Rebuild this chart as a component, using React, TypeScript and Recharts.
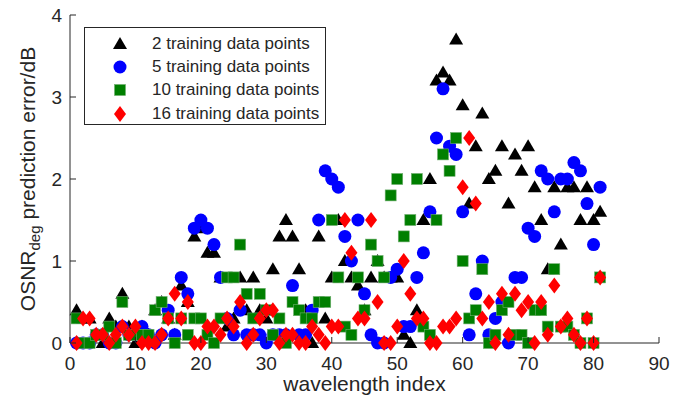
import { ScatterChart, Scatter, XAxis, YAxis } from "recharts";

// wavelength index 1..81
const wavelengthIndex = Array.from({ length: 81 }, (_, i) => i + 1);

const xTicks = [0, 10, 20, 30, 40, 50, 60, 70, 80, 90];
const yTicks = [0, 1, 2, 3, 4];

// prediction error (dB), one value per wavelength index
const err2 = [
  0.4, 0.3, 0.3, 0.1, 0, 0.3, 0.2, 0.6, 0.2, 0,
  0.2, 0.1, 0.4, 0.5, 0.3, 0.1, 0.7, 0.5, 1.3, 1.4,
  1.1, 1.1, 0.8, 0.2, 0.3, 0.8, 0.4, 0.8, 0.4, 0.3,
  0.9, 1.3, 1.5, 1.3, 0.9, 0.4, 0, 1.3, 0.3, 0.8,
  1.5, 1.0, 0.8, 0.7, 0.4, 0.8, 1.0, 0.8, 0.8, 0.8,
  0.1, 0, 0.4, 1.5, 2.0, 3.2, 3.3, 3.2, 3.7, 2.9,
  1.7, 2.4, 2.8, 2.0, 2.1, 2.4, 1.7, 2.3, 2.1, 2.4,
  1.9, 1.5, 0.9, 1.9, 1.2, 1.9, 1.9, 1.5, 1.9, 1.5, 1.6,
];
const err5 = [
  0, 0, 0, 0.1, 0.1, 0, 0, 0.2, 0.1, 0.1,
  0.2, 0.1, 0, 0.1, 0.4, 0.1, 0.8, 0.6, 1.4, 1.5,
  1.4, 1.2, 0.8, 0.3, 0.1, 0.4, 0.1, 0.1, 0.1, 0,
  0.1, 0.1, 0.1, 0.7, 0.1, 0.1, 0.4, 1.5, 2.1, 2.0,
  1.9, 1.3, 1.0, 1.5, 0.6, 0.1, 0, 0, 0.8, 0.9,
  0.2, 0.2, 0.8, 1.1, 1.6, 2.5, 3.1, 2.4, 2.3, 1.6,
  0.1, 0.6, 1.0, 0.1, 0.3, 0.5, 0, 0.8, 0.8, 1.4,
  1.3, 2.1, 2.0, 1.6, 2.0, 2.0, 2.2, 2.1, 1.7, 1.2, 1.9,
];
const err10 = [
  0.3, 0, 0, 0.1, 0.1, 0.2, 0, 0.5, 0.1, 0.1,
  0.1, 0.1, 0.4, 0.5, 0.3, 0, 0.3, 0.1, 0.3, 0.3,
  0.1, 0, 0.3, 0.8, 0.8, 1.2, 0.6, 0.3, 0.6, 0.4,
  0.1, 0.3, 0, 0.5, 0.4, 0.3, 0.3, 0.5, 0.5, 1.5,
  0.8, 0.2, 0.1, 0.8, 0.4, 1.2, 1.0, 0.8, 1.8, 2.0,
  1.3, 1.5, 2.0, 0.2, 0.1, 1.5, 2.3, 2.1, 2.5, 1.0,
  0.3, 0.4, 0.9, 0, 0.1, 0.4, 0.5, 0.1, 0.1, 0,
  0.4, 0.4, 0.2, 0.9, 0.2, 0.2, 0.1, 0, 0.3, 0, 0.8,
];
const err16 = [
  0, 0.3, 0.3, 0.1, 0.1, 0, 0.1, 0.2, 0.1, 0.2,
  0, 0, 0, 0.1, 0.3, 0.6, 0.3, 0.5, 0, 0,
  0.2, 0.2, 0.1, 0.3, 0.2, 0.5, 0, 0.1, 0.3, 0.4,
  0.4, 0, 0.1, 0.1, 0, 0, 0.2, 0.1, 0, 0.2,
  0.2, 1.5, 1.1, 0.3, 0.3, 1.5, 0.5, 0, 0, 0.2,
  1.0, 0.6, 0.3, 0.3, 0, 0, 0.2, 0.2, 0.3, 1.9,
  2.5, 1.7, 0.3, 0.5, 0, 0.6, 0.1, 0.6, 0.4, 0.5,
  0, 0.5, 0.1, 0.7, 0.2, 0.3, 0.1, 0, 0.3, 0, 0.8,
];

const TEXT = "#262626";
const FONT = "'Liberation Sans', Arial, sans-serif";

const toPoints = (vals: number[]) => wavelengthIndex.map((x, i) => ({ x, y: vals[i] }));

const Triangle = ({ cx, cy, fill }: any) => (
  <polygon points={`${cx},${cy - 7} ${cx - 7},${cy + 5} ${cx + 7},${cy + 5}`} fill={fill} />
);
const Dot = ({ cx, cy, fill }: any) => <circle cx={cx} cy={cy} r={6.5} fill={fill} />;
const Square = ({ cx, cy, fill }: any) => (
  <rect x={cx - 5.5} y={cy - 5.5} width={11} height={11} fill={fill} stroke="#6fae6f" strokeWidth={0.6} />
);
const Diamond = ({ cx, cy, fill }: any) => (
  <polygon points={`${cx},${cy - 8} ${cx + 6},${cy} ${cx},${cy + 8} ${cx - 6},${cy}`} fill={fill} />
);

const series = [
  { name: "2 training data points", data: err2, color: "#000000", shape: Triangle },
  { name: "5 training data points", data: err5, color: "#0000ff", shape: Dot },
  { name: "10 training data points", data: err10, color: "#007f00", shape: Square },
  { name: "16 training data points", data: err16, color: "#ff0000", shape: Diamond },
];

const BottomTick = ({ x, y, payload }: any) => (
  <g>
    <line x1={x} x2={x} y1={y} y2={y - 6} stroke={TEXT} />
    <text x={x} y={y + 27} textAnchor="middle" fontSize={19} fill={TEXT} fontFamily={FONT}>
      {payload.value}
    </text>
  </g>
);
const TopTick = ({ x, y }: any) => <line x1={x} x2={x} y1={y} y2={y + 6} stroke={TEXT} />;
const LeftTick = ({ x, y, payload }: any) => (
  <g>
    <line x1={x} x2={x + 6} y1={y} y2={y} stroke={TEXT} />
    <text x={x - 8} y={y + 7} textAnchor="end" fontSize={19} fill={TEXT} fontFamily={FONT}>
      {payload.value}
    </text>
  </g>
);
const RightTick = ({ x, y }: any) => <line x1={x} x2={x - 6} y1={y} y2={y} stroke={TEXT} />;

const XLabel = () => (
  <text x={364.5} y={391} textAnchor="middle" fontSize={21} fill={TEXT} fontFamily={FONT}>
    wavelength index
  </text>
);
const YLabel = () => (
  <text
    x={35}
    y={179}
    transform="rotate(-90, 35, 179)"
    textAnchor="middle"
    fontSize={21}
    fill={TEXT}
    fontFamily={FONT}
  >
    <tspan>OSNR</tspan>
    <tspan fontSize={15} dy={5}>deg</tspan>
    <tspan dy={-5}> prediction error/dB</tspan>
  </text>
);

function LegendBox() {
  return (
    <div
      style={{
        position: "absolute",
        left: 84,
        top: 27,
        width: 242,
        height: 98,
        border: `1px solid ${TEXT}`,
        background: "#fff",
        fontFamily: FONT,
        fontSize: 17,
        color: TEXT,
        boxSizing: "border-box",
        paddingTop: 4,
      }}
    >
      {series.map((s) => {
        const Shape = s.shape;
        return (
          <div key={s.name} style={{ height: 23.3, display: "flex", alignItems: "center" }}>
            <svg width={67} height={22} style={{ flex: "none" }}>
              <Shape cx={35} cy={11} fill={s.color} />
            </svg>
            <span>{s.name}</span>
          </div>
        );
      })}
    </div>
  );
}

export default function App() {
  return (
    <div style={{ position: "absolute", left: 0, top: 0, width: 699, height: 406, background: "#fff" }}>
      <ScatterChart width={699} height={406} margin={{ top: 15, right: 40, bottom: 0, left: 0 }}>
        <XAxis
          xAxisId="b"
          dataKey="x"
          type="number"
          domain={[0, 90]}
          ticks={xTicks}
          height={63}
          tickSize={0}
          tickMargin={0}
          tickLine={false}
          axisLine={{ stroke: TEXT }}
          tick={<BottomTick />}
          label={<XLabel />}
        />
        <XAxis
          xAxisId="t"
          orientation="top"
          type="number"
          domain={[0, 90]}
          ticks={xTicks}
          height={0}
          tickSize={0}
          tickLine={false}
          axisLine={{ stroke: TEXT }}
          tick={<TopTick />}
        />
        <YAxis
          yAxisId="l"
          dataKey="y"
          type="number"
          domain={[0, 4]}
          ticks={yTicks}
          width={70}
          tickSize={0}
          tickMargin={0}
          tickLine={false}
          axisLine={{ stroke: TEXT }}
          tick={<LeftTick />}
          label={<YLabel />}
        />
        <YAxis
          yAxisId="r"
          orientation="right"
          type="number"
          domain={[0, 4]}
          ticks={yTicks}
          width={0}
          tickSize={0}
          tickLine={false}
          axisLine={{ stroke: TEXT }}
          tick={<RightTick />}
        />
        {series.map((s) => (
          <Scatter
            key={s.name}
            name={s.name}
            xAxisId="b"
            yAxisId="l"
            data={toPoints(s.data)}
            fill={s.color}
            shape={s.shape}
            isAnimationActive={false}
          />
        ))}
      </ScatterChart>
      <LegendBox />
    </div>
  );
}
